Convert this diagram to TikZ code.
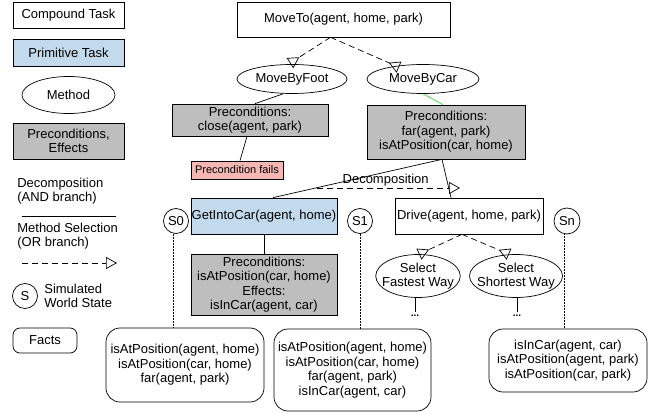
\documentclass[tikz,border=0pt]{standalone}
\usepackage{fontspec}
\setmainfont{Liberation Sans}
\usetikzlibrary{shapes.geometric,arrows.meta}
\definecolor{primblue}{HTML}{C3D9EC}
\definecolor{condgray}{HTML}{BEBEBE}
\definecolor{failpink}{HTML}{F4B7B3}
\definecolor{selgreen}{HTML}{33E02A}

\begin{document}
\begin{tikzpicture}[x=1pt, y=-1pt, line width=0.7pt, every node/.style={font=\fontsize{13}{14.5}\selectfont},
  task/.style={rectangle, draw, inner sep=0pt, align=center},
  primtask/.style={task, fill=primblue},
  cond/.style={task, fill=condgray},
  method/.style={ellipse, draw, inner sep=0pt, align=center},
  facts/.style={rectangle, rounded corners=14pt, draw, inner sep=0pt, align=center},
  worldstate/.style={circle, draw, inner sep=0pt, minimum size=25pt},
  dots/.style={inner sep=1pt, text height=3pt, text depth=0pt, font=\fontsize{10}{10}\bfseries},
  select/.style={dash pattern=on 6pt off 4pt, -{Triangle[open, length=11pt, width=12pt]}},
  choice/.style={dash pattern=on 6pt off 4pt, -{Triangle[open, reversed, length=11pt, width=12pt]}},
  sim/.style={densely dotted, line width=0.5pt}]

  \useasboundingbox (0,0) rectangle (654,414);

  % legend
  \node[task, minimum width=111pt, minimum height=26pt] (lgcompound) at (68.5,15) {Compound Task};
  \node[primtask, minimum width=111pt, minimum height=27pt] (lgprimitive) at (68.5,52.5) {Primitive Task};
  \node[method, minimum width=93pt, minimum height=37pt] (lgmethod) at (68.5,95) {Method};
  \node[cond, minimum width=111pt, minimum height=36pt] (lgcond) at (68.5,141) {Preconditions,\\Effects};
  \node[anchor=west, align=left, inner sep=0pt] (lgdecomp) at (17,191) {Decomposition\\(AND branch)};
  \coordinate (lgdecA) at (22,216);
  \coordinate (lgdecB) at (116,216);
  \draw (lgdecA) -- (lgdecB);
  \node[anchor=west, align=left, inner sep=0pt] (lgselect) at (17,236) {Method Selection\\(OR branch)};
  \coordinate (lgselA) at (22,263);
  \coordinate (lgselB) at (117,263);
  \draw[select] (lgselA) -- (lgselB);
  \node[worldstate] (lgstate) at (25,296) {S};
  \node[anchor=west, align=left, inner sep=0pt] (lgstatetext) at (44,296) {Simulated\\World State};
  \node[facts, rounded corners=7pt, minimum width=64pt, minimum height=25pt] (lgfacts) at (45,340.5) {Facts};

  % tree
  \node[task, minimum width=213pt, minimum height=35pt] (moveto) at (343.5,19.5) {MoveTo(agent, home, park)};
  \node[method, minimum width=110pt, minimum height=29pt] (byfoot) at (292,79) {MoveByFoot};
  \node[method, minimum width=112pt, minimum height=29pt] (bycar) at (423,79) {MoveByCar};
  \node[cond, minimum width=156pt, minimum height=32pt] (precfoot) at (250,120) {Preconditions:\\close(agent, park)};
  \node[task, fill=failpink, minimum width=92pt, minimum height=18pt, font=\fontsize{11}{13}\selectfont] (fails) at (237,170) {Precondition fails};
  \node[cond, minimum width=158pt, minimum height=54pt] (preccar) at (446,132) {Preconditions:\\far(agent, park)\\isAtPosition(car, home)};
  \node[primtask, minimum width=146pt, minimum height=36pt] (getinto) at (264,216) {GetIntoCar(agent, home)};
  \node[cond, minimum width=146pt, minimum height=61pt] (precget) at (264,284.5) {Preconditions:\\isAtPosition(car, home)\\Effects:\\isInCar(agent, car)};
  \node[task, minimum width=148pt, minimum height=36pt] (drive) at (469,216) {Drive(agent, home, park)};
  \node[method, inner xsep=-6pt, minimum width=84pt, minimum height=43pt] (fastest) at (418,276) {Select\\Fastest Way};
  \node[method, inner xsep=-6pt, minimum width=93pt, minimum height=43pt] (shortest) at (516,276) {Select\\Shortest Way};
  \node[dots] (dotsfast) at (415,315) {...};
  \node[dots] (dotsshort) at (517,315) {...};

  % world states
  \node[worldstate] (s0) at (176,221) {S0};
  \node[worldstate] (s1) at (360,221) {S1};
  \node[worldstate, minimum size=26pt] (sn) at (567,221) {Sn};
  \node[facts, minimum width=158pt, minimum height=74pt] (facts0) at (185,365) {isAtPosition(agent, home)\\isAtPosition(car, home)\\far(agent, park)};
  \node[facts, minimum width=157pt, minimum height=82pt] (facts1) at (352.5,370) {isAtPosition(agent, home)\\isAtPosition(car, home)\\far(agent, park)\\isInCar(agent, car)};
  \node[facts, minimum width=158pt, minimum height=63pt] (factsn) at (568,360.5) {isInCar(agent, car)\\isAtPosition(agent, park)\\isAtPosition(car, park)};

  % method selection
  \draw[choice] ([xshift=-13pt]moveto.south) -- ([xshift=-2pt, yshift=1pt]byfoot.north);
  \draw[choice] ([xshift=-13pt]moveto.south) -- ([xshift=-24pt, yshift=-3pt]bycar.north);
  \draw[choice] ([xshift=-7pt]drive.south) -- ([xshift=1pt]fastest.north);
  \draw[choice] ([xshift=-7pt]drive.south) -- ([xshift=-7pt]shortest.north);
  \coordinate (decstart) at (317,188);
  \coordinate (decend) at (460,188);
  \draw[select] (decstart) -- node[above, inner sep=1pt, pos=0.48] {Decomposition} (decend);

  % decomposition
  \draw ([xshift=-9pt]byfoot.south) -- ([xshift=5pt]precfoot.north);
  \draw[selgreen] (bycar.south) -- ([xshift=-3pt]preccar.north);
  \draw ([xshift=-3pt]precfoot.south) -- ([xshift=3pt]fails.north);
  \draw ([xshift=-4pt]preccar.south) -- ([xshift=9pt]getinto.north);
  \draw ([xshift=-4pt]preccar.south) -- ([xshift=-18pt]drive.north);
  \draw (getinto) -- (precget);
  \draw ([xshift=-3pt]fastest.south) -- (dotsfast.north);
  \draw ([xshift=1pt]shortest.south) -- (dotsshort.north);

  % simulation
  \draw[sim] ([xshift=-3pt]s0.south) -- ([xshift=-3pt]s0.south |- facts0.north);
  \draw[sim] (s1.south) -- (s1.south |- facts1.north);
  \draw[sim] ([xshift=-3pt]sn.south) -- ([xshift=-3pt]sn.south |- factsn.north);
\end{tikzpicture}
\end{document}
